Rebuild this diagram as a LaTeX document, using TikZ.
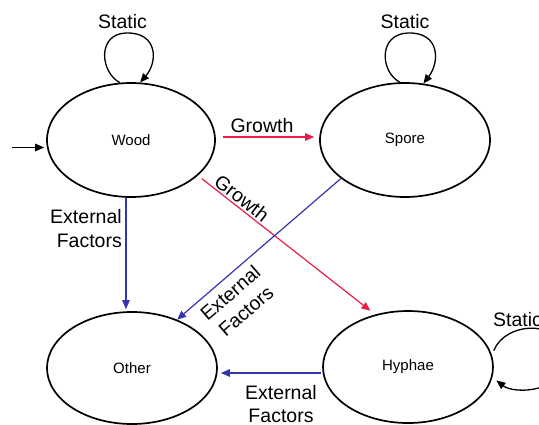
\documentclass[tikz,border=0pt]{standalone}
\usepackage{fontspec}
\setmainfont{Liberation Sans}
\usetikzlibrary{arrows.meta,shapes.geometric}
\definecolor{growthred}{RGB}{232,30,72}
\definecolor{factorblue}{RGB}{52,52,176}
\begin{document}
\begin{tikzpicture}[x=1pt,y=-1pt,
  state/.style={ellipse,draw,line width=1.7pt,inner sep=0pt,
    minimum width=170pt,minimum height=112pt,font=\fontsize{15}{18}\selectfont},
  lbl/.style={font=\fontsize{19.5}{24}\selectfont,inner sep=0pt},
  tip/.style={-{Triangle[length=9pt,width=7.5pt]},line width=1.2pt},
  loopline/.style={tip,line width=1.3pt},
  growtharrow/.style={tip,draw=growthred},
  factorarrow/.style={tip,draw=factorblue}]
\useasboundingbox (0,0) rectangle (539,424);

% states
\node[state,minimum width=168pt,minimum height=114pt] (wood) at (131,140) {Wood};
\node[state,minimum height=114pt] (spore) at (405,140) {Spore};
\node[state] (other) at (132,368) {Other};
\node[state] (hyphae) at (408,367) {Hyphae};

% initial arrow
\coordinate (entry) at (12,147.5);
\draw[tip] (entry) -- (entry -| wood.west) [shorten >=2pt];

% self loops
\draw[loopline] (wood.101) .. controls (100,72) and (97,34) .. (126,33)
  .. controls (158,32) and (158,62) .. (wood.81);
\draw[loopline] (spore.95) .. controls (380,72) and (378,34) .. (408,33)
  .. controls (440,32) and (440,62) .. (spore.72);
\draw[loopline,shorten <=5pt,shorten >=5pt] (hyphae.8)
  .. controls (505,322) and (560,318) .. (565,355)
  .. controls (568,392) and (515,395) .. (hyphae.-7);

% growth transitions
\draw[growtharrow,shorten <=7pt,shorten >=5pt]
  ([yshift=3pt]wood.east) -- ([yshift=3pt]spore.west);
\draw[growtharrow,shorten <=5pt,shorten >=6pt] (wood.-28) -- (hyphae.122);

% external factors transitions
\draw[factorarrow,shorten >=2pt] (wood.265) -- (wood.265 |- other.north);
\draw[factorarrow] (spore.211) -- (other.47);
\draw[factorarrow,shorten <=1pt,shorten >=3pt]
  ([yshift=-6pt]hyphae.west) -- ([yshift=-6pt]hyphae.west -| other.east);

% labels
\node[lbl,anchor=base] (s1) at (122.5,28) {Static};
\node[lbl,anchor=base] (s2) at (405,28) {Static};
\node[lbl,anchor=base west] (s3) at (493,326) {Static};
\node[lbl,anchor=base] (g1) at (262,132) {Growth};
\node[lbl,rotate=-37.8] (g2) at (242,198) {Growth};
\node[lbl,align=right] (f1) at (86,229) {External\\Factors};
\node[lbl,align=center,rotate=40.8] (f2) at (238,302) {External\\Factors};
\node[lbl,align=center,font=\fontsize{19.5}{22.5}\selectfont] (f3) at (281,404) {External\\Factors};
\end{tikzpicture}
\end{document}
